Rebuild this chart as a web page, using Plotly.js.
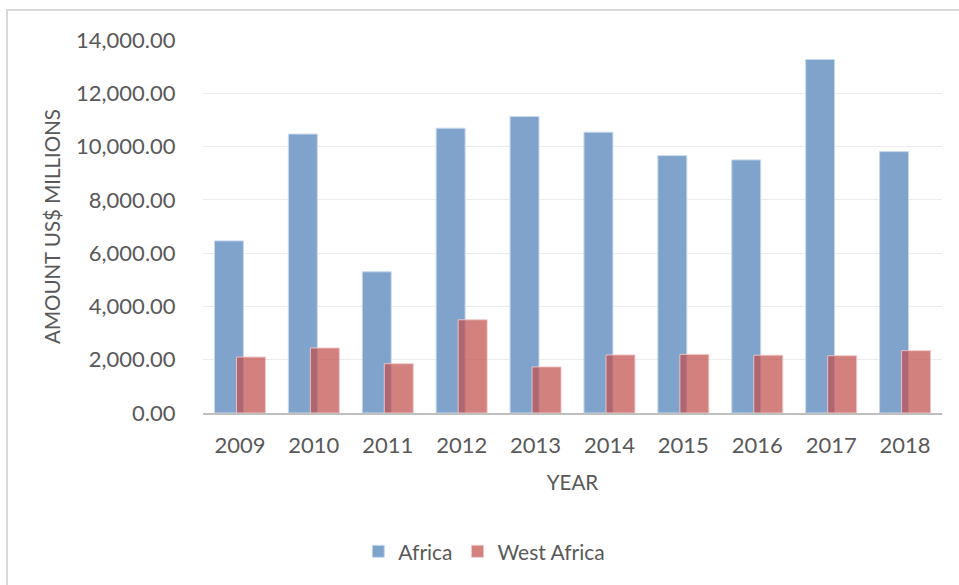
<!DOCTYPE html>
<html>
<head>
<meta charset="utf-8">
<script src="https://cdn.plot.ly/plotly-3.0.1.min.js"></script>
<style>
  html, body { margin: 0; padding: 0; background: #ffffff; overflow: hidden; }
  #wrap { position: relative; width: 959px; height: 585px; }
  #chart { position: absolute; left: 0; top: 0; width: 959px; height: 585px; }
  #frame { position: absolute; left: 6px; top: 9px; right: -4px; bottom: -4px;
           border-left: 2px solid #d9d9d9; border-top: 2px solid #d9d9d9;
           pointer-events: none; }
</style>
</head>
<body>
<div id="wrap">
  <div id="chart"></div>
  <div id="frame"></div>
</div>
<script>
// Annual amounts, US$ millions
const years = ['2009', '2010', '2011', '2012', '2013', '2014', '2015', '2016', '2017', '2018'];
const africa = [6460, 10470, 5300, 10690, 11130, 10540, 9660, 9500, 13270, 9810];
const westAfrica = [2100, 2440, 1850, 3500, 1730, 2180, 2200, 2170, 2150, 2340];
const yTicks = [0, 2000, 4000, 6000, 8000, 10000, 12000, 14000];

const FONT = 'Lato, "Open Sans", sans-serif';
const TEXT = '#595959';

const traces = [
  {
    type: 'bar', name: 'Africa', x: years, y: africa,
    width: 0.392, offset: -0.345,
    marker: { color: '#7FA3CB', line: { color: '#c9d9ee', width: 1 } },
    hoverinfo: 'x+y+name'
  },
  {
    type: 'bar', name: 'West Africa', x: years, y: westAfrica,
    width: 0.392, offset: -0.047,
    marker: { color: 'rgba(192,80,77,0.72)', line: { color: 'rgba(240,200,200,0.9)', width: 1 } },
    hoverinfo: 'x+y+name'
  }
];

const layout = {
  width: 959, height: 585,
  margin: { l: 203, r: 17, t: 40, b: 172, pad: 0 },
  paper_bgcolor: '#ffffff', plot_bgcolor: '#ffffff',
  barmode: 'overlay',
  font: { family: FONT, color: TEXT, size: 21 },
  showlegend: true,
  legend: {
    orientation: 'h', xref: 'container', yref: 'container',
    x: 0.505, xanchor: 'center', y: 0.057, yanchor: 'middle',
    font: { family: FONT, size: 21, color: TEXT },
    itemwidth: 30, traceorder: 'normal'
  },
  xaxis: {
    type: 'category', automargin: false,
    showline: true, linecolor: '#bfbfbf', linewidth: 2,
    showgrid: false, zeroline: false,
    ticks: 'outside', ticklen: 12, tickcolor: 'rgba(0,0,0,0)',
    tickfont: { family: FONT, size: 22, color: TEXT },
    title: { text: 'YEAR', font: { family: FONT, size: 20.5, color: TEXT }, standoff: 18 }
  },
  yaxis: {
    range: [0, 14000], automargin: false,
    tickvals: yTicks, tickformat: ',.2f',
    showline: false, zeroline: false,
    showgrid: true, gridcolor: '#ececec', gridwidth: 1,
    ticks: 'outside', ticklen: 22, tickcolor: 'rgba(0,0,0,0)',
    tickfont: { family: FONT, size: 22, color: TEXT },
    title: { text: 'AMOUNT US$ MILLIONS', font: { family: FONT, size: 20.5, color: TEXT }, standoff: 9 }
  }
};

Plotly.newPlot('chart', traces, layout, { displayModeBar: false, staticPlot: true });
</script>
</body>
</html>
